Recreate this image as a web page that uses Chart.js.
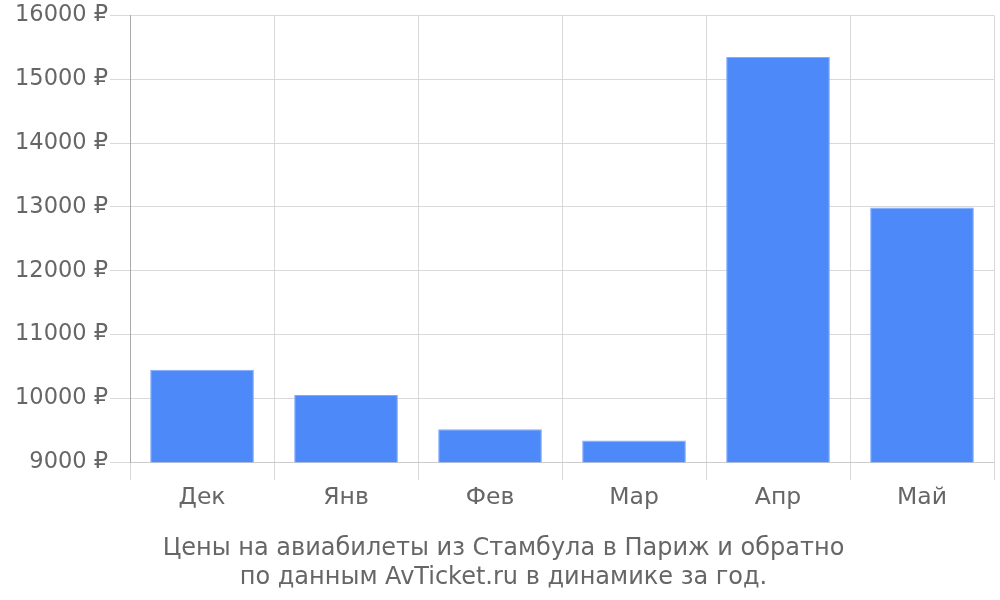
<!DOCTYPE html>
<html>
<head>
<meta charset="utf-8">
<script src="https://cdn.jsdelivr.net/npm/chart.js@4"></script>
<style>
    html, body { margin: 0; padding: 0; background: #fff; }
    #wrap { width: 1000px; height: 600px; }
</style>
</head>
<body>
<div id="wrap"><canvas id="myChart"></canvas></div>
<script>
const months = ["Дек", "Янв", "Фев", "Мар", "Апр", "Май"];
const prices = [10450, 10055, 9515, 9340, 15350, 12990];
const titleLines = ["Цены на авиабилеты из Стамбула в Париж и обратно", "по данным AvTicket.ru в динамике за год."];

const ctx = document.getElementById('myChart');

new Chart(ctx, {
    type: 'bar',
    data: {
        labels: months,
        datasets: [{
            data: prices,
            backgroundColor: '#4d89f9',
            borderColor: '#80abfb',
            borderWidth: 1,
            barPercentage: 0.9,
            categoryPercentage: 0.8
        }]
    },
    options: {
        responsive: true,
        maintainAspectRatio: false,
        animation: false,
        layout: { padding: { top: 0, right: 6, left: 13, bottom: 8 } },
        plugins: {
            legend: { display: false },
            tooltip: { enabled: false },
            title: {
                display: true,
                position: 'bottom',
                text: titleLines,
                color: '#666',
                font: { family: 'DejaVu Sans', size: 24, weight: 'normal', lineHeight: 1.2 },
                padding: { top: 18, bottom: 0 }
            }
        },
        scales: {
            x: {
                grid: { color: '#d9d9d9', tickLength: 18, offset: true },
                border: { color: '#cccccc' },
                ticks: { color: '#666', font: { family: 'DejaVu Sans', size: 23.5 }, padding: 4 }
            },
            y: {
                min: 9000,
                max: 16000,
                grid: { color: '#d9d9d9', tickLength: 20 },
                border: { color: '#aaaaaa' },
                ticks: {
                    stepSize: 1000,
                    color: '#666',
                    padding: 2,
                    font: { family: 'DejaVu Sans', size: 22.5 },
                    callback: function (value) { return value + ' ₽'; }
                }
            }
        }
    }
});
</script>
</body>
</html>
